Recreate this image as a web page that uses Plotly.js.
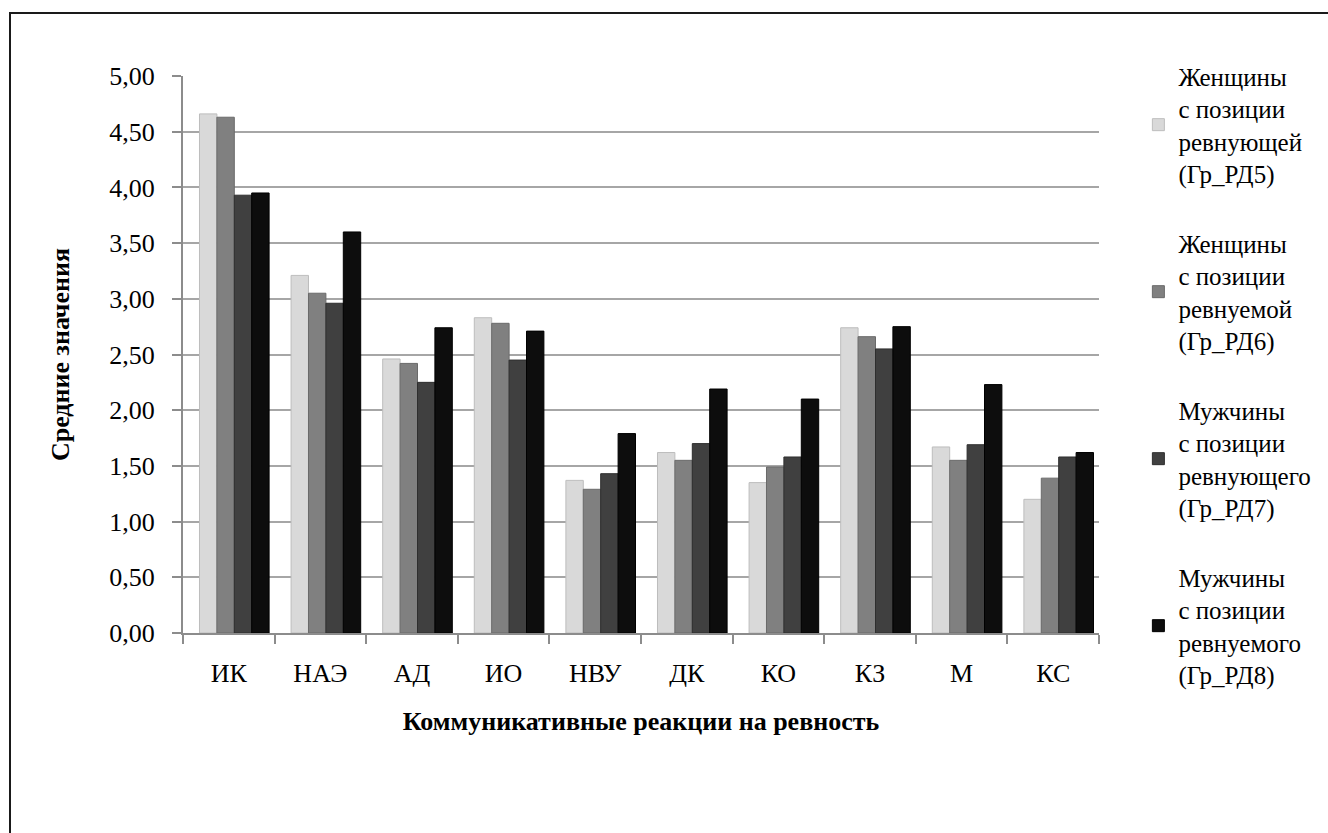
<!DOCTYPE html>
<html>
<head>
<meta charset="utf-8">
<script src="https://cdn.plot.ly/plotly-3.0.1.min.js"></script>
<style>
  html, body { margin: 0; padding: 0; background: #fff; }
  #wrap { position: relative; width: 1328px; height: 833px; }
  #chart { width: 1328px; height: 833px; }
  #frame { position: absolute; left: 9px; top: 12px; right: -10px; bottom: -10px;
           border-left: 2px solid #1a1a1a; border-top: 2px solid #1a1a1a; pointer-events: none; }
</style>
</head>
<body>
<div id="wrap">
  <div id="chart"></div>
  <div id="frame"></div>
</div>
<script>
const categories = ["ИК", "НАЭ", "АД", "ИО", "НВУ", "ДК", "КО", "КЗ", "М", "КС"];
const seriesNames = [
  "Женщины<br>с позиции<br>ревнующей<br>(Гр_РД5)",
  "Женщины<br>с позиции<br>ревнуемой<br>(Гр_РД6)",
  "Мужчины<br>с позиции<br>ревнующего<br>(Гр_РД7)",
  "Мужчины<br>с позиции<br>ревнуемого<br>(Гр_РД8)"
];
const womenJealous   = [4.66, 3.21, 2.46, 2.83, 1.37, 1.62, 1.35, 2.74, 1.67, 1.20];
const womenJealousOf = [4.63, 3.05, 2.42, 2.78, 1.29, 1.55, 1.49, 2.66, 1.55, 1.39];
const menJealous     = [3.93, 2.96, 2.25, 2.45, 1.43, 1.70, 1.58, 2.55, 1.69, 1.58];
const menJealousOf   = [3.95, 3.60, 2.74, 2.71, 1.79, 2.19, 2.10, 2.75, 2.23, 1.62];
const yTickVals = [0, 0.5, 1, 1.5, 2, 2.5, 3, 3.5, 4, 4.5, 5];

const seriesValues = [womenJealous, womenJealousOf, menJealous, menJealousOf];
const colors = ["#d9d9d9", "#808080", "#404040", "#0d0d0d"];
const edge = ["#bdbdbd", "#6a6a6a", "#2e2e2e", "#000000"];
const barWidth = 0.19;
const firstOffset = -0.32;

const traces = seriesValues.map((vals, i) => ({
  type: "bar",
  x: categories,
  y: vals,
  name: seriesNames[i],
  legendgroup: "g" + i,
  width: barWidth,
  offset: firstOffset + i * barWidth,
  marker: { color: colors[i], line: { color: edge[i], width: 1 } },
  hoverinfo: "x+y"
}));

const serif = "Liberation Serif, Times New Roman, serif";

const layout = {
  width: 1328,
  height: 833,
  margin: { l: 183, r: 215, t: 76, b: 200 },
  paper_bgcolor: "#ffffff",
  plot_bgcolor: "#ffffff",
  separators: ", ",
  font: { family: serif, size: 25, color: "#000" },
  barmode: "group",
  showlegend: true,
  legend: {
    x: 1.043, xanchor: "left",
    y: 1.041, yanchor: "top",
    font: { family: serif, size: 25, color: "#000" },
    tracegroupgap: 34,
    traceorder: "grouped",
    maxheight: 1,
    bgcolor: "rgba(0,0,0,0)"
  },
  xaxis: {
    type: "category",
    showline: true, linecolor: "#8c8c8c", linewidth: 2,
    ticks: "outside", tickson: "boundaries", ticklen: 9, tickcolor: "#8c8c8c", tickwidth: 2,
    ticklabelstandoff: 16,
    showgrid: false,
    tickfont: { family: serif, size: 26 },
    title: { text: "<b>Коммуникативные реакции на ревность</b>", font: { family: serif, size: 26 }, standoff: 25 }
  },
  yaxis: {
    range: [0, 5],
    tickvals: yTickVals,
    tickformat: ".2f",
    showline: true, linecolor: "#8c8c8c", linewidth: 2,
    ticks: "outside", ticklen: 9, tickcolor: "#8c8c8c", tickwidth: 2,
    ticklabelstandoff: 12,
    showgrid: true, gridcolor: "#a6a6a6", gridwidth: 2,
    zeroline: false,
    tickfont: { family: serif, size: 26 },
    title: { text: "<b>Средние значения</b>", font: { family: serif, size: 26 }, standoff: 32 }
  }
};

Plotly.newPlot("chart", traces, layout, { displayModeBar: false, staticPlot: true });
</script>
</body>
</html>
